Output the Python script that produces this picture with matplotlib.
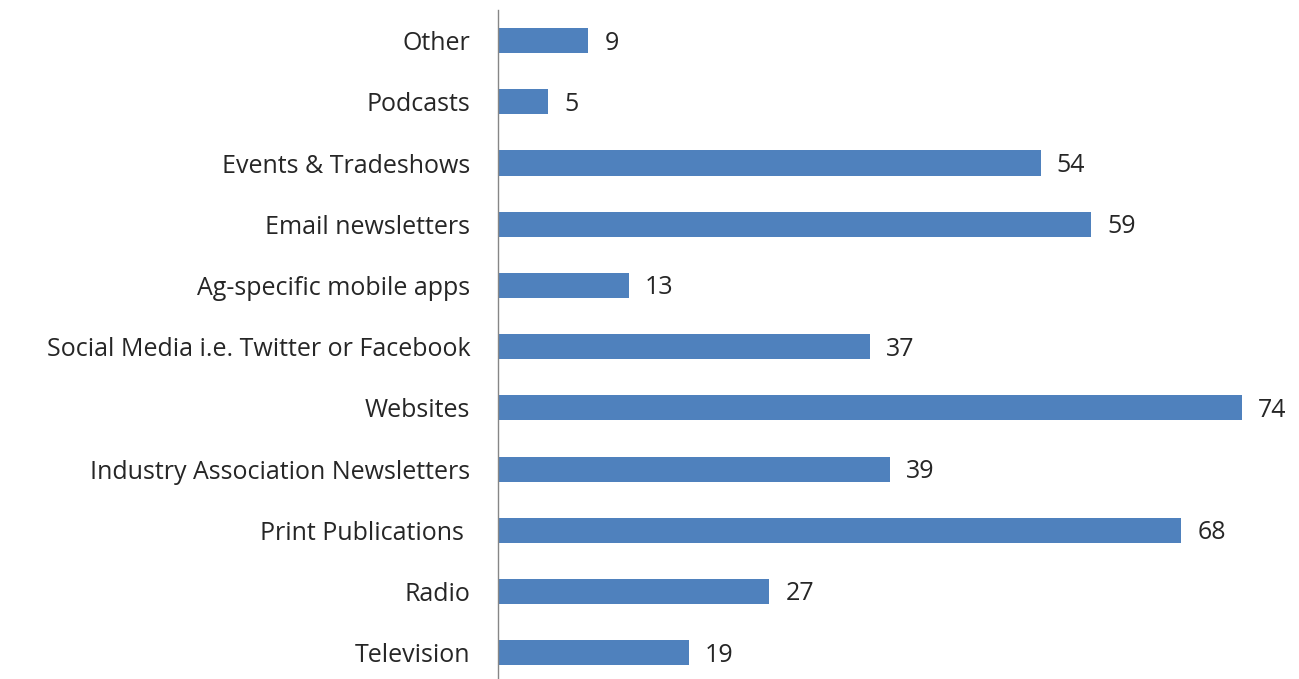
import matplotlib

matplotlib.use("Agg")
import matplotlib.pyplot as plt

# Data, bottom to top as drawn
categories = [
    "Television",
    "Radio",
    "Print Publications ",
    "Industry Association Newsletters",
    "Websites",
    "Social Media i.e. Twitter or Facebook",
    "Ag-specific mobile apps",
    "Email newsletters",
    "Events & Tradeshows",
    "Podcasts",
    "Other",
]
values = [19, 27, 68, 39, 74, 37, 13, 59, 54, 5, 9]

plt.rcParams["font.family"] = ["Open Sans", "DejaVu Sans"]

fig = plt.figure(figsize=(12.99, 6.79), dpi=100)
ax = fig.add_axes([498 / 1299, 0.0, 1 - 498 / 1299, 669 / 679])

pos = list(range(len(categories)))
bars = ax.barh(pos, values, height=0.41, color="#4F81BD")

# value labels just right of each bar
for b, v in zip(bars, values):
    ax.text(b.get_width() + 1.6, b.get_y() + b.get_height() / 2 - 0.04, str(v),
            va="center", ha="left", fontsize=18, color="#262626")

ax.set_yticks(pos)
ax.set_yticklabels(categories, fontsize=18, color="#262626")
ax.tick_params(axis="y", length=0, pad=20)
ax.set_xticks([])
ax.set_xlim(0, 79.7)
ax.set_ylim(-0.43, 10.5)

for side in ("top", "right", "bottom"):
    ax.spines[side].set_visible(False)
ax.spines["left"].set_color("#868686")
ax.spines["left"].set_linewidth(1.0)

fig.savefig("out.png", dpi=100)
